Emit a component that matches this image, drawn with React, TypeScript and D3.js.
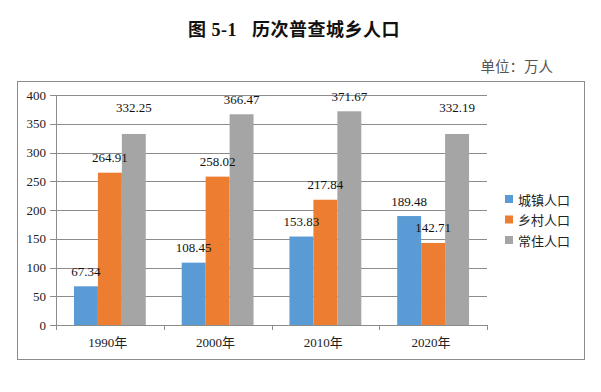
import React from "react";
import * as d3 from "d3";

const categories = ["1990年", "2000年", "2010年", "2020年"];
const seriesNames = ["城镇人口", "乡村人口", "常住人口"];
const urban = [67.34, 108.45, 153.83, 189.48];
const rural = [264.91, 258.02, 217.84, 142.71];
const resident = [332.25, 366.47, 371.67, 332.19];
const yTicks = [0, 50, 100, 150, 200, 250, 300, 350, 400];
const colors = ["#5B9BD5", "#ED7D31", "#A5A5A5"];

const W = 601;
const H = 392;
const plot = { left: 56, right: 487, top: 95, bottom: 325 };

export default function App() {
  const series = [urban, rural, resident];
  const x = d3
    .scaleBand<string>()
    .domain(categories)
    .range([plot.left, plot.right])
    .paddingInner(0.3333)
    .paddingOuter(0.16667);
  const x0 = d3.scaleBand<string>().domain(categories).range([plot.left, plot.right]);
  const xs = d3.scaleBand<string>().domain(seriesNames).range([0, x.bandwidth()]);
  const y = d3.scaleLinear().domain([0, 400]).range([plot.bottom, plot.top]);

  const serif = "'Liberation Serif', 'Times New Roman', 'Noto Sans CJK SC', serif";
  const sans = "'Noto Sans CJK SC', 'Noto Sans', sans-serif";
  const labelCap = y(378);

  return (
    <svg
      width={W}
      height={H}
      style={{ position: "fixed", left: 0, top: 0, background: "#fff" }}
    >
      <rect x={0} y={0} width={W} height={H} fill="#fff" />
      <text
        x={294}
        y={30}
        textAnchor="middle"
        dominantBaseline="central"
        fontFamily={serif}
        fontWeight="bold"
        fontSize={18}
        fill="#111"
        letterSpacing={0.5}
        style={{ whiteSpace: "pre" }}
      >
        {"图 5-1   历次普查城乡人口"}
      </text>
      <text
        x={553}
        y={65}
        textAnchor="end"
        dominantBaseline="central"
        fontFamily={sans}
        fontSize={14.5}
        fill="#555"
      >
        单位：万人
      </text>
      <rect
        x={17.5}
        y={81.5}
        width={567}
        height={278}
        fill="none"
        stroke="#8c8c8c"
        strokeWidth={1}
      />
      {yTicks.map((t) => (
        <g key={t}>
          {t > 0 && (
            <line
              x1={plot.left}
              x2={plot.right}
              y1={Math.round(y(t)) + 0.5}
              y2={Math.round(y(t)) + 0.5}
              stroke="#8c8c8c"
              strokeWidth={1}
            />
          )}
          <line
            x1={plot.left - 6}
            x2={plot.left}
            y1={Math.round(y(t)) + 0.5}
            y2={Math.round(y(t)) + 0.5}
            stroke="#8c8c8c"
          />
          <text
            x={46}
            y={y(t)}
            textAnchor="end"
            dominantBaseline="central"
            fontFamily={serif}
            fontSize={13}
            fill="#222"
          >
            {t}
          </text>
        </g>
      ))}
      {categories.map((c, i) => (
        <g key={c}>
          {series.map((s, j) => {
            const bx = (x(c) as number) + (xs(seriesNames[j]) as number);
            const by = y(s[i]);
            return (
              <rect
                key={j}
                x={bx}
                y={by}
                width={xs.bandwidth()}
                height={plot.bottom - by}
                fill={colors[j]}
              />
            );
          })}
        </g>
      ))}
      <line
        x1={plot.left + 0.5}
        x2={plot.left + 0.5}
        y1={plot.top}
        y2={plot.bottom}
        stroke="#8c8c8c"
      />
      <line
        x1={plot.left}
        x2={plot.right}
        y1={plot.bottom + 0.5}
        y2={plot.bottom + 0.5}
        stroke="#8c8c8c"
      />
      {[...categories.map((c) => x0(c) as number), plot.right].map((tx, k) => (
        <line
          key={k}
          x1={Math.round(tx) + 0.5}
          x2={Math.round(tx) + 0.5}
          y1={plot.bottom}
          y2={plot.bottom + 5}
          stroke="#8c8c8c"
        />
      ))}
      {categories.map((c) => (
        <text
          key={c}
          x={(x0(c) as number) + x0.bandwidth() / 2 - 2}
          y={342}
          textAnchor="middle"
          dominantBaseline="central"
          fontFamily={serif}
          fontSize={13}
          fill="#222"
        >
          {c}
        </text>
      ))}
      {categories.map((c, i) =>
        series.map((s, j) => {
          const cx = (x(c) as number) + (xs(seriesNames[j]) as number) + xs.bandwidth() / 2;
          const base = y(s[i]) - 15;
          const ly = j === 2 ? Math.min(base, labelCap) : base;
          return (
            <text
              key={c + j}
              x={cx}
              y={ly}
              textAnchor="middle"
              dominantBaseline="central"
              fontFamily={serif}
              fontSize={13}
              fill="#111"
            >
              {s[i].toFixed(2)}
            </text>
          );
        })
      )}
      {seriesNames.map((n, j) => (
        <g key={n} transform={`translate(505, ${199 + j * 20.5})`}>
          <rect x={0} y={-4} width={8} height={8} fill={colors[j]} />
          <text
            x={13}
            y={0}
            dominantBaseline="central"
            fontFamily={sans}
            fontSize={13}
            fill="#222"
          >
            {n}
          </text>
        </g>
      ))}
    </svg>
  );
}
